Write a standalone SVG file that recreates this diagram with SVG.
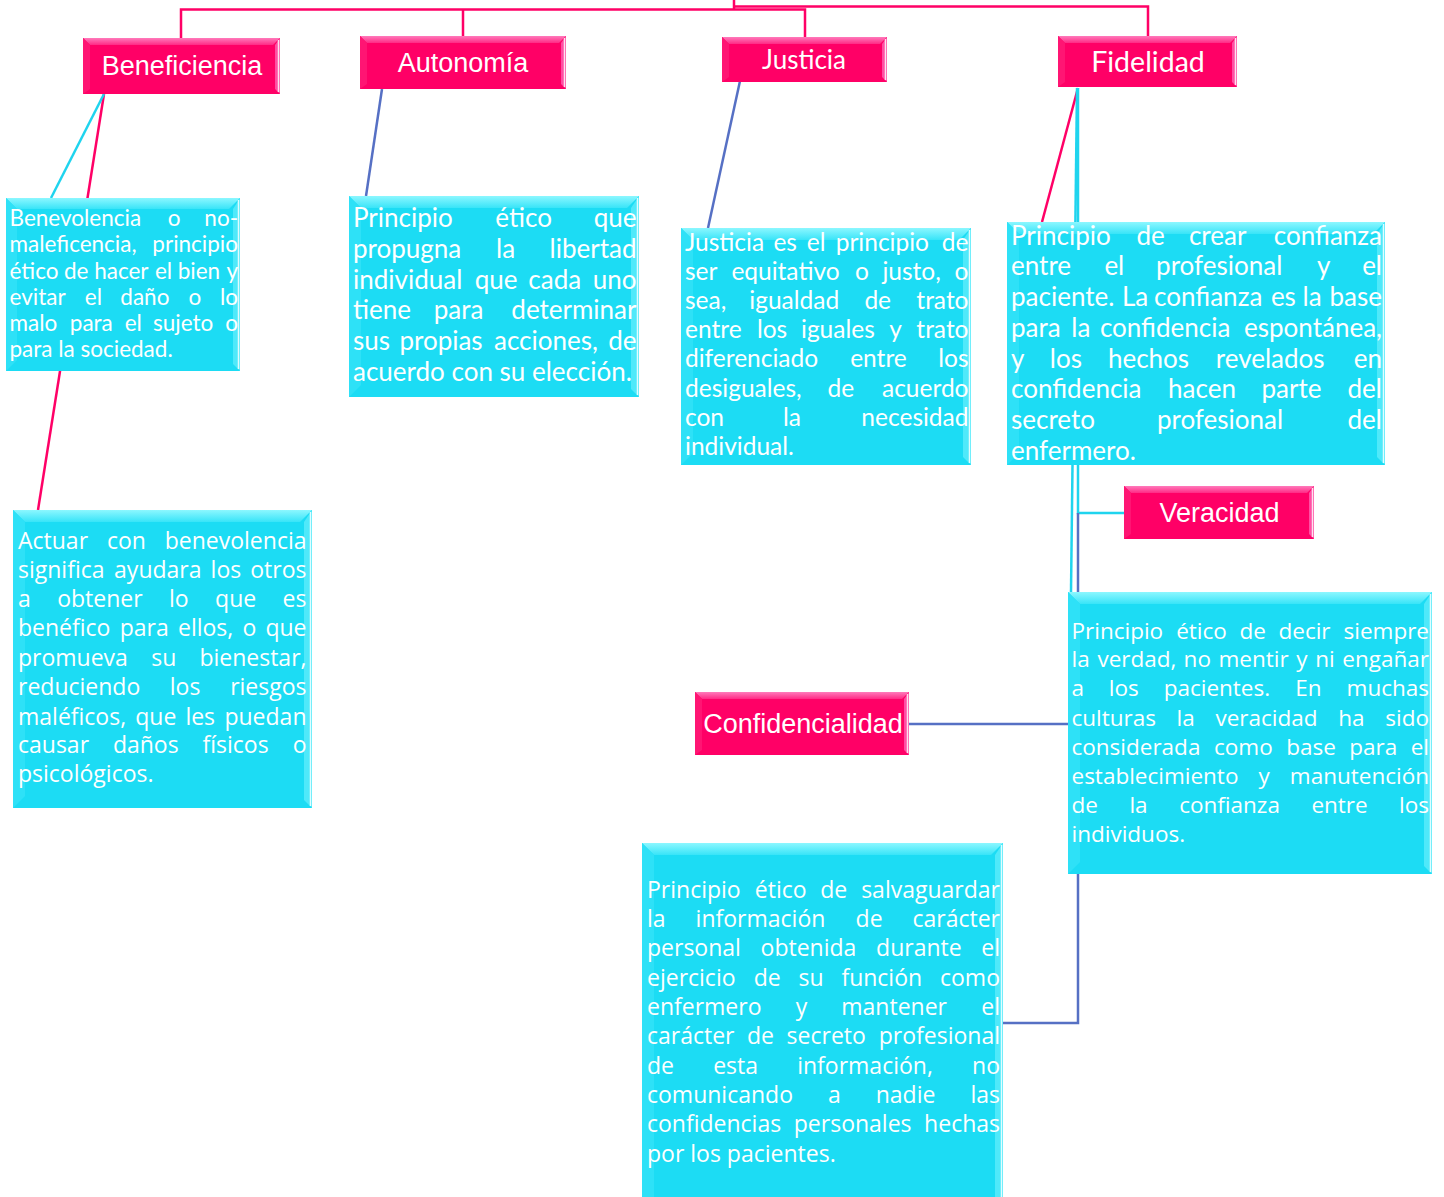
<svg xmlns="http://www.w3.org/2000/svg" width="1444" height="1197" viewBox="0 0 1444 1197">
<defs>
<linearGradient id="gpt" x1="0" y1="0" x2="0" y2="1"><stop offset="0" stop-color="#FF7ABB"/><stop offset="1" stop-color="#FF2A85"/></linearGradient>
<linearGradient id="gct" x1="0" y1="0" x2="0" y2="1"><stop offset="0" stop-color="#8CF7FF"/><stop offset="1" stop-color="#38E4F8"/></linearGradient>
<style>
.pk{fill:#FF0066}
.pkt{fill:url(#gpt)}
.pkr{fill:#FF4FA3}
.pkl{fill:#FF1573}
.cy{fill:#1CDCF4}
.cyt{fill:url(#gct)}
.cyr{fill:#4FE9FA}
.cyl{fill:#2EE1F7}
.hlp{stroke:#FFE0F0;stroke-width:1.5}
.hlc{stroke:#DFFDFF;stroke-width:1.5}
.cp{fill:none;stroke:#FF0066;stroke-width:2.5}
.cc{fill:none;stroke:#1FD4EE;stroke-width:2.5}
.cb{fill:none;stroke:#5670C4;stroke-width:2.5}
text{fill:#FFFFFF}
.ar{font-family:"Liberation Sans",Arial,sans-serif;font-size:27px;text-anchor:middle}
.lbl{font-family:Lato,"Liberation Sans",sans-serif;text-anchor:middle}
.lb{font-family:Lato,"Liberation Sans",sans-serif}
.os{font-family:"Open Sans","Noto Sans",sans-serif}
.e{text-anchor:end}
</style>
</defs>

<g id="connectors">
<polyline class="cp" points="734,0 734,9.5"/>
<polyline class="cp" points="181,38 181,9.5 805,9.5 805,37"/>
<polyline class="cp" points="463,9.5 463,37"/>
<polyline class="cp" points="734,6.5 1148,6.5 1148,37"/>
<line class="cp" x1="104" y1="94" x2="38" y2="510"/>
<line class="cc" x1="104" y1="94" x2="51" y2="198"/>
<line class="cp" x1="1078" y1="88" x2="1042" y2="222"/>
<line class="cc" x1="1077" y1="88" x2="1071" y2="592"/>
<polyline class="cc" points="1078,88 1078,513 1124,513"/>
<line class="cb" x1="382" y1="89" x2="366" y2="196"/>
<line class="cb" x1="740" y1="81" x2="708" y2="228"/>
<line class="cb" x1="1078" y1="513" x2="1078" y2="592"/>
<line class="cb" x1="909" y1="724" x2="1068" y2="724"/>
<polyline class="cb" points="1078,874 1078,1023 1003,1023"/>
</g>

<g id="beneficiencia">
<rect class="pk" x="83" y="38" width="197" height="56"/>
<polygon class="pkt" points="83,38 280,38 273,45 90,45"/>
<polygon class="pkr" points="280,38 280,94 275,89 275,45"/>
<polygon class="pkl" points="83,38 90,45 90,89 83,94"/>
<line class="hlp" x1="278.5" y1="40" x2="278.5" y2="92"/>
<text class="ar" x="182" y="75">Beneficiencia</text>
</g>

<g id="autonomia">
<rect class="pk" x="360" y="36" width="206" height="53"/>
<polygon class="pkt" points="360,36 566,36 559,43 367,43"/>
<polygon class="pkr" points="566,36 566,89 561,84 561,43"/>
<polygon class="pkl" points="360,36 367,43 367,84 360,89"/>
<line class="hlp" x1="564.5" y1="38" x2="564.5" y2="87"/>
<text class="ar" x="463" y="72">Autonomía</text>
</g>

<g id="justicia">
<rect class="pk" x="722" y="37" width="165" height="45"/>
<polygon class="pkt" points="722,37 887,37 880,44 729,44"/>
<polygon class="pkr" points="887,37 887,82 882,77 882,44"/>
<polygon class="pkl" points="722,37 729,44 729,77 722,82"/>
<line class="hlp" x1="885.5" y1="39" x2="885.5" y2="80"/>
<text class="lbl" x="804" y="68.5" font-size="26">Justicia</text>
</g>

<g id="fidelidad">
<rect class="pk" x="1058" y="36" width="179" height="51"/>
<polygon class="pkt" points="1058,36 1237,36 1230,43 1065,43"/>
<polygon class="pkr" points="1237,36 1237,87 1232,82 1232,43"/>
<polygon class="pkl" points="1058,36 1065,43 1065,82 1058,87"/>
<line class="hlp" x1="1235.5" y1="38" x2="1235.5" y2="85"/>
<text class="lbl" x="1148" y="71.5" font-size="28.5">Fidelidad</text>
</g>

<g id="veracidad">
<rect class="pk" x="1124" y="486" width="190" height="53"/>
<polygon class="pkt" points="1124,486 1314,486 1307,493 1131,493"/>
<polygon class="pkr" points="1314,486 1314,539 1309,534 1309,493"/>
<polygon class="pkl" points="1124,486 1131,493 1131,534 1124,539"/>
<line class="hlp" x1="1312.5" y1="488" x2="1312.5" y2="537"/>
<text class="ar" x="1219.5" y="521.5">Veracidad</text>
</g>

<g id="confidencialidad">
<rect class="pk" x="695" y="692" width="214" height="63"/>
<polygon class="pkt" points="695,692 909,692 902,699 702,699"/>
<polygon class="pkr" points="909,692 909,755 904,750 904,699"/>
<polygon class="pkl" points="695,692 702,699 702,750 695,755"/>
<line class="hlp" x1="907.5" y1="694" x2="907.5" y2="753"/>
<text class="ar" x="803" y="732.5">Confidencialidad</text>
</g>

<g id="txt-benevolencia">
<rect class="cy" x="6" y="198" width="234" height="173"/>
<polygon class="cyt" points="6,198 240,198 229,209 17,209"/>
<polygon class="cyr" points="240,198 240,371 233,364 233,209"/>
<polygon class="cyl" points="6,198 17,209 17,360 6,371"/>
<line class="hlc" x1="238.5" y1="200" x2="238.5" y2="369"/>
<g class="lb" font-size="22.5">
<text y="225.5"><tspan x="9.5">Benevolencia</tspan><tspan x="167.8">o</tspan><tspan class="e" x="238">no-</tspan></text>
<text y="252"><tspan x="9.5">maleficencia,</tspan><tspan class="e" x="238">principio</tspan></text>
<text y="278.5"><tspan x="9.5">ético</tspan><tspan x="64">de</tspan><tspan x="94.2">hacer</tspan><tspan x="154.9">el</tspan><tspan x="177.7">bien</tspan><tspan class="e" x="238">y</tspan></text>
<text y="305"><tspan x="9.5">evitar</tspan><tspan x="84.8">el</tspan><tspan x="120.3">daño</tspan><tspan x="188.6">o</tspan><tspan class="e" x="238">lo</tspan></text>
<text y="331"><tspan x="9.5">malo</tspan><tspan x="69.8">para</tspan><tspan x="124.7">el</tspan><tspan x="153">sujeto</tspan><tspan class="e" x="238">o</tspan></text>
<text y="357" x="9.5">para la sociedad.</text>
</g>
</g>

<g id="txt-actuar">
<rect class="cy" x="13" y="510" width="299" height="298"/>
<polygon class="cyt" points="13,510 312,510 300,522 25,522"/>
<polygon class="cyr" points="312,510 312,808 304,800 304,522"/>
<polygon class="cyl" points="13,510 25,522 25,796 13,808"/>
<line class="hlc" x1="310.5" y1="512" x2="310.5" y2="806"/>
<g class="os" font-size="23">
<text y="549"><tspan x="18">Actuar</tspan><tspan x="106.9">con</tspan><tspan class="e" x="306.5">benevolencia</tspan></text>
<text y="578"><tspan x="18">significa</tspan><tspan x="114.1">ayudara</tspan><tspan x="210.6">los</tspan><tspan class="e" x="306.5">otros</tspan></text>
<text y="607"><tspan x="18">a</tspan><tspan x="57.2">obtener</tspan><tspan x="168.9">lo</tspan><tspan x="215.1">que</tspan><tspan class="e" x="306.5">es</tspan></text>
<text y="636"><tspan x="18">benéfico</tspan><tspan x="119.7">para</tspan><tspan x="178">ellos,</tspan><tspan x="242.5">o</tspan><tspan class="e" x="306.5">que</tspan></text>
<text y="665.5"><tspan x="18">promueva</tspan><tspan x="151.3">su</tspan><tspan class="e" x="306.5">bienestar,</tspan></text>
<text y="695"><tspan x="18">reduciendo</tspan><tspan x="169.8">los</tspan><tspan class="e" x="306.5">riesgos</tspan></text>
<text y="724.5"><tspan x="18">maléficos,</tspan><tspan x="135.3">que</tspan><tspan x="185.4">les</tspan><tspan class="e" x="306.5">puedan</tspan></text>
<text y="753"><tspan x="18">causar</tspan><tspan x="112.9">daños</tspan><tspan x="202.5">físicos</tspan><tspan class="e" x="306.5">o</tspan></text>
<text y="782" x="18">psicológicos.</text>
</g>
</g>

<g id="txt-autonomia">
<rect class="cy" x="349" y="196" width="290" height="201"/>
<polygon class="cyt" points="349,196 639,196 627,208 361,208"/>
<polygon class="cyr" points="639,196 639,397 631,389 631,208"/>
<polygon class="cyl" points="349,196 361,208 361,385 349,397"/>
<line class="hlc" x1="637.5" y1="198" x2="637.5" y2="395"/>
<g class="lb" font-size="26">
<text y="227"><tspan x="353">Principio</tspan><tspan x="495.3">ético</tspan><tspan class="e" x="636.5">que</tspan></text>
<text y="258"><tspan x="353">propugna</tspan><tspan x="496">la</tspan><tspan class="e" x="636.5">libertad</tspan></text>
<text y="289"><tspan x="353">individual</tspan><tspan x="474.8">que</tspan><tspan x="528.3">cada</tspan><tspan class="e" x="636.5">uno</tspan></text>
<text y="319"><tspan x="353">tiene</tspan><tspan x="433.8">para</tspan><tspan class="e" x="636.5">determinar</tspan></text>
<text y="350"><tspan x="353">sus</tspan><tspan x="399.4">propias</tspan><tspan x="494">acciones,</tspan><tspan class="e" x="636.5">de</tspan></text>
<text y="381" x="353">acuerdo con su elección.</text>
</g>
</g>

<g id="txt-justicia">
<rect class="cy" x="681" y="228" width="290" height="237"/>
<polygon class="cyt" points="681,228 971,228 959,240 693,240"/>
<polygon class="cyr" points="971,228 971,465 963,457 963,240"/>
<polygon class="cyl" points="681,228 693,240 693,453 681,465"/>
<line class="hlc" x1="969.5" y1="230" x2="969.5" y2="463"/>
<g class="lb" font-size="24.5">
<text y="251"><tspan x="685">Justicia</tspan><tspan x="773.4">es</tspan><tspan x="806.8">el</tspan><tspan x="835.7">principio</tspan><tspan class="e" x="968.5">de</tspan></text>
<text y="280"><tspan x="685">ser</tspan><tspan x="731.4">equitativo</tspan><tspan x="855">o</tspan><tspan x="882.4">justo,</tspan><tspan class="e" x="968.5">o</tspan></text>
<text y="309"><tspan x="685">sea,</tspan><tspan x="749.3">igualdad</tspan><tspan x="864.4">de</tspan><tspan class="e" x="968.5">trato</tspan></text>
<text y="338"><tspan x="685">entre</tspan><tspan x="756.9">los</tspan><tspan x="801">iguales</tspan><tspan x="889.2">y</tspan><tspan class="e" x="968.5">trato</tspan></text>
<text y="367"><tspan x="685">diferenciado</tspan><tspan x="850.2">entre</tspan><tspan class="e" x="968.5">los</tspan></text>
<text y="396.5"><tspan x="685">desiguales,</tspan><tspan x="827.6">de</tspan><tspan class="e" x="968.5">acuerdo</tspan></text>
<text y="425.5"><tspan x="685">con</tspan><tspan x="782.9">la</tspan><tspan class="e" x="968.5">necesidad</tspan></text>
<text y="455" x="685">individual.</text>
</g>
</g>

<g id="txt-fidelidad">
<rect class="cy" x="1007" y="222" width="378" height="243"/>
<polygon class="cyt" points="1007,222 1385,222 1373,234 1019,234"/>
<polygon class="cyr" points="1385,222 1385,465 1377,457 1377,234"/>
<polygon class="cyl" points="1007,222 1019,234 1019,453 1007,465"/>
<line class="hlc" x1="1383.5" y1="224" x2="1383.5" y2="463"/>
<g class="lb" font-size="26">
<text y="244.5"><tspan x="1011">Principio</tspan><tspan x="1136.5">de</tspan><tspan x="1188.9">crear</tspan><tspan class="e" x="1382">confianza</tspan></text>
<text y="274.5"><tspan x="1011">entre</tspan><tspan x="1104.4">el</tspan><tspan x="1156.1">profesional</tspan><tspan x="1317">y</tspan><tspan class="e" x="1382">el</tspan></text>
<text y="305.5"><tspan x="1011">paciente.</tspan><tspan x="1121.9">La</tspan><tspan x="1154.1">confianza</tspan><tspan x="1270.9">es</tspan><tspan x="1302.6">la</tspan><tspan class="e" x="1382">base</tspan></text>
<text y="336.5"><tspan x="1011">para</tspan><tspan x="1071.3">la</tspan><tspan x="1099.9">confidencia</tspan><tspan class="e" x="1382">espontánea,</tspan></text>
<text y="367.5"><tspan x="1011">y</tspan><tspan x="1049.8">los</tspan><tspan x="1107.9">hechos</tspan><tspan x="1215.8">revelados</tspan><tspan class="e" x="1382">en</tspan></text>
<text y="397.5"><tspan x="1011">confidencia</tspan><tspan x="1168.1">hacen</tspan><tspan x="1261.5">parte</tspan><tspan class="e" x="1382">del</tspan></text>
<text y="428.5"><tspan x="1011">secreto</tspan><tspan x="1156.9">profesional</tspan><tspan class="e" x="1382">del</tspan></text>
<text y="459.5" x="1011">enfermero.</text>
</g>
</g>

<g id="txt-veracidad">
<rect class="cy" x="1068" y="592" width="364" height="282"/>
<polygon class="cyt" points="1068,592 1432,592 1420,604 1080,604"/>
<polygon class="cyr" points="1432,592 1432,874 1424,866 1424,604"/>
<polygon class="cyl" points="1068,592 1080,604 1080,862 1068,874"/>
<line class="hlc" x1="1430.5" y1="594" x2="1430.5" y2="872"/>
<g class="os" font-size="22.5">
<text y="638.5"><tspan x="1071.5">Principio</tspan><tspan x="1176.2">ético</tspan><tspan x="1239.5">de</tspan><tspan x="1278.5">decir</tspan><tspan class="e" x="1429">siempre</tspan></text>
<text y="667"><tspan x="1071.5">la</tspan><tspan x="1097.4">verdad,</tspan><tspan x="1183.6">no</tspan><tspan x="1218.5">mentir</tspan><tspan x="1296.3">y</tspan><tspan x="1315.2">ni</tspan><tspan class="e" x="1429">engañar</tspan></text>
<text y="696"><tspan x="1071.5">a</tspan><tspan x="1108.8">los</tspan><tspan x="1163.7">pacientes.</tspan><tspan x="1295.2">En</tspan><tspan class="e" x="1429">muchas</tspan></text>
<text y="725.5"><tspan x="1071.5">culturas</tspan><tspan x="1176.6">la</tspan><tspan x="1215.4">veracidad</tspan><tspan x="1338.2">ha</tspan><tspan class="e" x="1429">sido</tspan></text>
<text y="755"><tspan x="1071.5">considerada</tspan><tspan x="1214">como</tspan><tspan x="1286.2">base</tspan><tspan x="1349.3">para</tspan><tspan class="e" x="1429">el</tspan></text>
<text y="784"><tspan x="1071.5">establecimiento</tspan><tspan x="1258.6">y</tspan><tspan class="e" x="1429">manutención</tspan></text>
<text y="813"><tspan x="1071.5">de</tspan><tspan x="1129.4">la</tspan><tspan x="1179.2">confianza</tspan><tspan x="1311.4">entre</tspan><tspan class="e" x="1429">los</tspan></text>
<text y="842" x="1071.5">individuos.</text>
</g>
</g>

<g id="txt-confidencialidad">
<rect class="cy" x="642" y="843" width="361" height="360"/>
<polygon class="cyt" points="642,843 1003,843 991,855 654,855"/>
<polygon class="cyr" points="1003,843 1003,1203 995,1203 995,855"/>
<polygon class="cyl" points="642,843 654,855 654,1203 642,1203"/>
<line class="hlc" x1="1001.5" y1="845" x2="1001.5" y2="1203"/>
<g class="os" font-size="23">
<text y="898"><tspan x="647">Principio</tspan><tspan x="754.8">ético</tspan><tspan x="820.3">de</tspan><tspan class="e" x="1000">salvaguardar</tspan></text>
<text y="927"><tspan x="647">la</tspan><tspan x="695.6">información</tspan><tspan x="855.6">de</tspan><tspan class="e" x="1000">carácter</tspan></text>
<text y="956"><tspan x="647">personal</tspan><tspan x="760.6">obtenida</tspan><tspan x="876.1">durante</tspan><tspan class="e" x="1000">el</tspan></text>
<text y="986"><tspan x="647">ejercicio</tspan><tspan x="753.7">de</tspan><tspan x="798.5">su</tspan><tspan x="841.4">función</tspan><tspan class="e" x="1000">como</tspan></text>
<text y="1015"><tspan x="647">enfermero</tspan><tspan x="795.7">y</tspan><tspan x="841.3">mantener</tspan><tspan class="e" x="1000">el</tspan></text>
<text y="1044"><tspan x="647">carácter</tspan><tspan x="747">de</tspan><tspan x="786.6">secreto</tspan><tspan class="e" x="1000">profesional</tspan></text>
<text y="1074"><tspan x="647">de</tspan><tspan x="713.2">esta</tspan><tspan x="797.2">información,</tspan><tspan class="e" x="1000">no</tspan></text>
<text y="1103"><tspan x="647">comunicando</tspan><tspan x="828.1">a</tspan><tspan x="875.7">nadie</tspan><tspan class="e" x="1000">las</tspan></text>
<text y="1132"><tspan x="647">confidencias</tspan><tspan x="793.8">personales</tspan><tspan class="e" x="1000">hechas</tspan></text>
<text y="1162" x="647">por los pacientes.</text>
</g>
</g>
</svg>
